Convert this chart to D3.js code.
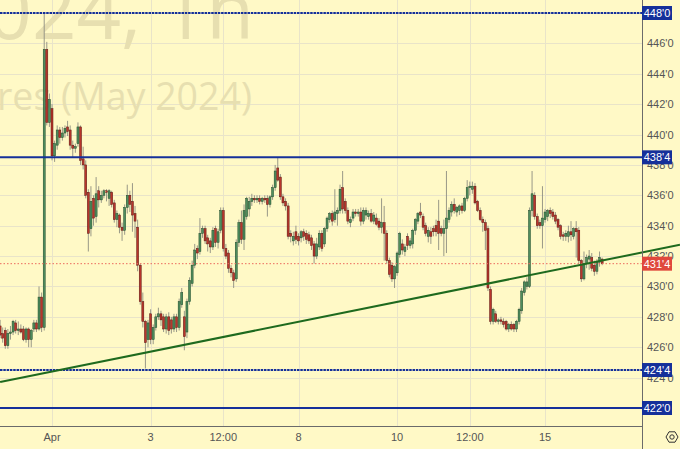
<!DOCTYPE html>
<html><head><meta charset="utf-8">
<script src="https://cdn.jsdelivr.net/npm/d3@7"></script>
<style>html,body{margin:0;padding:0;background:#fff9c6;}svg{display:block;}</style>
</head><body>
<svg id="c" width="680" height="449"></svg>
<script>
// ---- data (hourly bars, index 0..232) ----
const opens = [427.4,426.9,427.1,426.1,426.9,427.0,427.6,427.1,427.2,427.2,426.5,427.2,426.5,427.2,427.6,427.2,429.3,427.3,445.6,440.8,
441.7,438.6,439.3,440.3,439.8,440.1,440.5,440.3,439.3,439.1,439.4,440.5,438.4,438.0,436.2,433.8,435.8,434.6,436.3,435.7,
436.0,436.3,435.8,436.2,435.5,434.4,434.7,433.9,433.7,435.2,436.0,435.6,434.8,433.9,431.4,429.0,427.7,426.5,428.2,426.5,
427.3,428.0,428.2,428.0,427.2,428.0,427.8,427.2,428.0,427.3,428.8,428.0,427.0,429.0,430.2,431.4,432.5,432.3,433.5,433.8,
433.2,433.0,432.6,433.8,432.9,433.7,435.0,432.5,432.2,431.2,430.9,430.5,432.9,434.2,433.1,434.6,435.1,435.6,435.8,435.7,
435.8,435.6,435.8,435.8,435.4,435.9,436.5,437.8,437.2,435.9,435.6,435.3,433.5,433.0,433.6,433.3,433.2,433.6,433.5,433.4,
433.2,432.8,432.0,432.6,433.5,432.8,433.8,434.4,434.8,434.4,434.8,435.0,436.5,435.6,435.0,434.2,434.5,434.9,434.8,434.9,
434.3,434.7,434.6,434.8,434.3,434.5,434.3,433.9,434.2,433.5,431.7,431.4,430.5,430.9,432.1,432.8,432.3,433.3,432.7,432.8,
433.7,434.3,434.9,434.6,434.0,433.3,433.6,433.8,434.0,434.3,433.8,433.5,433.8,434.4,434.9,435.4,434.9,435.0,435.3,435.0,
435.8,436.5,436.4,436.6,435.6,435.0,434.4,434.2,433.8,429.8,427.7,428.2,427.7,427.8,427.7,427.7,427.2,427.5,427.5,427.2,
427.7,428.4,429.6,430.0,430.0,435.0,436.0,434.6,434.2,434.0,434.4,434.6,435.0,434.9,434.7,434.4,434.0,433.4,433.3,433.3,
433.6,433.3,433.8,433.7,431.7,430.5,431.5,431.8,431.9,431.4,431.0,431.6,431.8];
const highs = [427.8,427.3,427.3,427.2,427.4,427.8,427.8,427.7,427.5,427.4,427.3,427.3,427.2,427.8,427.8,430.0,429.6,448.0,446.1,442.7,
442.0,439.6,440.6,440.5,440.5,440.6,440.9,440.6,439.6,439.4,440.8,440.6,439.2,438.3,436.4,436.6,436.0,437.2,436.6,436.3,
436.4,436.4,436.4,436.3,435.7,435.0,434.8,434.2,435.4,436.7,436.3,436.8,435.3,434.4,431.5,429.6,427.8,427.8,428.5,427.5,
428.2,428.6,428.4,428.2,428.2,428.3,428.0,428.2,428.2,429.2,429.9,428.4,429.2,430.6,431.7,432.8,432.7,434.5,434.0,434.0,
433.4,433.2,433.9,434.0,433.8,435.2,435.2,432.8,432.4,431.4,431.1,433.1,434.4,435.0,435.4,435.9,435.9,436.1,436.0,436.0,
436.0,435.9,436.0,436.0,436.0,436.7,438.0,438.5,437.4,436.1,435.8,435.5,433.7,433.6,434.0,433.5,433.7,433.8,433.7,433.6,
433.4,433.0,433.2,433.7,433.7,433.9,434.6,434.9,435.0,436.4,435.2,436.7,437.6,435.8,435.2,434.6,435.1,435.1,435.1,435.2,
435.2,435.2,435.0,435.1,434.9,434.8,434.5,435.8,435.3,433.7,431.9,431.6,431.4,432.3,433.6,433.1,432.8,433.5,433.2,433.8,
434.5,434.9,435.5,434.8,434.2,433.9,433.9,434.0,434.4,435.7,434.0,434.4,437.6,435.2,435.6,435.8,435.3,435.4,435.5,435.9,
437.0,436.9,436.9,436.8,435.7,435.2,434.6,434.4,434.0,430.0,428.6,428.4,427.9,428.0,427.9,427.8,427.6,427.7,427.6,427.8,
428.6,429.9,430.4,430.6,435.2,437.6,436.2,434.8,434.4,436.6,435.1,435.1,435.2,435.1,434.9,434.5,434.1,433.6,433.7,434.0,
434.3,433.9,434.3,433.9,431.8,432.3,432.1,432.4,432.2,431.7,431.8,432.3,431.9];
const lows = [426.6,426.3,425.9,425.9,426.5,426.8,426.9,426.8,426.9,426.4,426.3,426.0,426.0,427.0,427.0,427.1,427.0,427.1,440.6,440.5,
438.3,438.2,439.0,439.4,439.6,439.8,439.9,439.0,438.5,438.8,439.2,438.0,437.7,435.8,432.3,433.3,434.0,434.2,435.2,435.5,
435.8,435.6,435.3,435.2,434.2,433.9,433.5,433.0,433.4,434.8,434.9,433.6,433.2,431.0,428.8,427.3,424.6,426.0,426.2,426.2,
427.1,427.8,427.4,427.0,426.9,426.8,426.9,427.0,427.0,427.1,428.6,425.8,426.6,428.8,430.0,431.2,431.8,432.1,433.2,432.8,
432.3,432.2,432.4,432.6,432.5,433.5,432.3,431.8,430.9,430.6,429.9,430.3,432.6,432.8,432.4,434.4,434.6,435.3,435.5,435.5,
435.4,435.4,435.5,434.6,435.2,435.7,436.3,436.9,435.7,435.3,435.0,433.1,432.9,432.7,432.8,432.7,432.9,433.0,432.8,432.8,
432.4,431.5,431.8,432.4,432.3,432.6,433.6,434.2,434.0,434.2,434.0,434.8,434.8,434.8,434.1,433.9,434.3,434.6,434.6,434.0,
434.1,434.4,434.4,434.2,434.1,434.0,433.7,433.5,431.7,431.5,430.6,430.3,429.9,430.7,431.9,432.1,432.0,432.4,432.5,432.5,
433.4,434.1,434.5,433.7,433.3,432.9,432.8,433.3,433.3,432.4,433.3,432.0,432.2,434.2,434.6,434.8,434.6,434.7,434.8,434.9,
435.6,436.0,436.1,435.4,434.9,434.3,433.6,432.4,429.7,427.5,427.5,427.6,427.5,427.5,427.3,427.1,427.0,427.1,427.0,427.0,
427.5,428.2,429.4,429.8,429.9,434.6,434.4,433.8,433.8,432.5,434.2,434.3,434.5,434.4,434.1,433.7,433.1,433.0,433.0,432.9,
433.0,433.1,431.9,431.5,430.3,430.4,431.2,431.1,431.0,430.7,430.8,431.3,431.4];
const closes = [426.8,426.6,426.1,426.9,427.0,427.7,427.1,427.2,427.0,426.5,427.2,426.5,427.1,427.6,427.2,429.3,427.3,445.6,440.8,442.3,
438.6,439.4,440.3,439.8,440.1,440.4,440.2,439.3,439.1,439.2,440.5,438.3,438.0,436.0,433.5,435.6,434.5,436.1,435.7,436.0,
436.3,436.2,436.3,435.4,434.4,434.8,433.9,433.7,435.2,436.0,435.4,434.7,434.3,431.4,429.0,427.7,426.3,427.6,426.5,427.3,
428.0,428.2,427.8,427.2,428.0,427.1,427.2,428.0,427.3,429.0,429.6,426.7,429.0,430.4,431.4,432.4,432.2,433.5,433.8,433.0,
432.8,432.6,433.7,432.9,433.6,435.0,432.5,432.0,431.2,430.9,430.4,432.9,434.2,433.1,435.0,435.8,435.6,435.8,435.7,435.8,
435.6,435.8,435.7,435.4,435.9,436.5,437.6,437.0,435.9,435.5,435.3,433.3,433.3,433.3,433.1,433.0,433.6,433.3,433.1,433.0,
432.7,432.0,432.8,433.5,432.5,433.8,434.5,434.8,434.3,434.9,435.0,436.4,435.1,435.0,434.3,434.4,434.9,434.8,434.9,434.3,
435.0,435.0,434.8,434.3,434.7,434.1,433.9,434.2,433.5,431.7,430.8,430.5,431.3,432.2,433.5,432.4,432.6,432.7,433.0,433.7,
434.4,434.8,434.7,433.9,433.5,433.7,433.3,433.6,433.6,433.5,433.5,433.8,434.5,435.0,435.4,435.0,435.2,435.3,435.0,435.8,
436.5,436.6,436.6,435.5,435.0,434.4,434.2,433.7,429.9,427.7,428.5,427.7,427.8,427.7,427.5,427.2,427.5,427.2,427.2,427.7,
428.5,429.7,430.3,430.3,435.0,436.1,434.6,434.0,434.0,434.5,434.9,435.0,434.8,434.6,434.3,433.9,433.3,433.3,433.5,433.6,
433.4,433.8,433.6,431.7,430.5,431.5,431.9,432.0,431.2,431.0,431.6,431.9,431.5];

// time axis labels: bar index -> label
const timeTickIdx = [20, 58, 86, 115, 153, 181, 210];
const timeTickLabels = ["Apr", "3", "12:00", "8", "10", "12:00", "15"];
// price ticks
const priceTicks = [422,424,426,428,430,432,434,436,438,440,442,444,446,448];
// horizontal levels
const levelPrices = [448, 438.5, 424.5, 422];
const levelDotted = [true, false, true, false];
// trend line: [bar index, price]
const trendIdx = [0, 262];
const trendPrice = [423.71, 432.74];
const lastPrice = 431.5;
const watermark1 = "ZWK2024, 1h";
const watermark2 = "Wheat Futures (May 2024)";

// ---- layout ----
const W = 680, H = 449, plotR = 642, plotB = 426;
const svg = d3.select("#c");
const x = d3.scaleLinear().domain([20, 210]).range([52, 545.05]);
const y = d3.scaleLinear().domain([422, 448]).range([408, 13]);
const fmt = p => { const i = Math.floor(p + 1e-9); const e = Math.round((p - i) * 8); return i + "'" + e; };

svg.append("rect").attr("width", W).attr("height", H).attr("fill", "#fff9c6");

// grid
const grid = svg.append("g").attr("stroke", "#e9e4c9").attr("stroke-width", 1);
grid.selectAll("line.h").data(priceTicks).join("line")
  .attr("x1", 0).attr("x2", plotR).attr("y1", d => Math.round(y(d)) + 0.5).attr("y2", d => Math.round(y(d)) + 0.5);
grid.selectAll("line.v").data(timeTickIdx).join("line")
  .attr("y1", 0).attr("y2", plotB).attr("x1", d => Math.round(x(d)) + 0.5).attr("x2", d => Math.round(x(d)) + 0.5);

// watermark
const wm = svg.append("g").attr("fill", "#e7dfb0").attr("font-family", "'Open Sans', 'Noto Sans', sans-serif").attr("text-anchor", "end");
wm.append("text").attr("x", 254).attr("y", 39).attr("font-size", 78).text(watermark1);
wm.append("text").attr("x", 252).attr("y", 110).attr("font-size", 37.5).text(watermark2);

// plot clip
svg.append("clipPath").attr("id", "pc").append("rect").attr("width", plotR).attr("height", plotB);

const bars = d3.range(opens.length).map(i => ({i, o: opens[i], h: highs[i], l: lows[i], c: closes[i]}));
const cg = svg.append("g").attr("clip-path", "url(#pc)");
cg.selectAll("line.w").data(bars).join("line")
  .attr("x1", d => x(d.i)).attr("x2", d => x(d.i))
  .attr("y1", d => y(d.h)).attr("y2", d => y(d.l))
  .attr("stroke", "#8d8d80").attr("stroke-width", 0.9);
cg.selectAll("rect.b").data(bars).join("rect")
  .attr("x", d => x(d.i) - 1)
  .attr("width", 2)
  .attr("y", d => y(Math.max(d.o, d.c)))
  .attr("height", d => Math.max(0.8, Math.abs(y(d.o) - y(d.c))))
  .attr("fill", d => d.c >= d.o ? "#4f8d5e" : "#b8352b")
  .attr("stroke", d => d.c >= d.o ? "#1f4a2a" : "#5a1712")
  .attr("stroke-width", 0.5);

// current price dotted line
svg.append("line").attr("x1", 0).attr("x2", plotR).attr("y1", y(lastPrice)).attr("y2", y(lastPrice))
  .attr("stroke", "#ec6a5e").attr("stroke-width", 1).attr("stroke-dasharray", "1.5,2");

// horizontal levels
levelPrices.forEach((p, k) => {
  svg.append("line").attr("x1", 0).attr("x2", plotR).attr("y1", y(p)).attr("y2", y(p))
    .attr("stroke", "#15309a").attr("stroke-width", 2)
    .attr("stroke-dasharray", levelDotted[k] ? "2.5,0.8" : null);
});

// trend line
svg.append("line")
  .attr("x1", x(trendIdx[0])).attr("y1", y(trendPrice[0]))
  .attr("x2", x(trendIdx[1])).attr("y2", y(trendPrice[1]))
  .attr("stroke", "#1e6a1e").attr("stroke-width", 2);

// axes lines
svg.append("line").attr("x1", plotR + 0.5).attr("x2", plotR + 0.5).attr("y1", 0).attr("y2", H).attr("stroke", "#6b6b6b");
svg.append("line").attr("x1", 0).attr("x2", plotR).attr("y1", plotB + 0.5).attr("y2", plotB + 0.5).attr("stroke", "#6b6b6b");

// price labels (ticks fully hidden under a level box are not drawn)
const lab = svg.append("g").attr("font-family", "'Liberation Sans', Arial, sans-serif").attr("font-size", 11);
lab.selectAll("text.p").data(priceTicks.filter(t => !levelPrices.includes(t))).join("text")
  .attr("x", 647).attr("y", d => y(d) + 4).attr("fill", "#555").text(d => fmt(d));
lab.selectAll("text.t").data(timeTickIdx).join("text")
  .attr("x", d => x(d)).attr("y", 441).attr("text-anchor", "middle").attr("fill", "#555")
  .text((d, k) => timeTickLabels[k]);

// level label boxes
levelPrices.forEach(p => {
  lab.append("rect").attr("x", 642).attr("y", y(p) - 7).attr("width", 30).attr("height", 14).attr("fill", "#15309a");
  lab.append("text").attr("x", 657).attr("y", y(p) + 4).attr("text-anchor", "middle").attr("fill", "#fff").text(fmt(p));
});
lab.append("rect").attr("x", 642).attr("y", y(lastPrice) - 7).attr("width", 30).attr("height", 14).attr("fill", "#e0483c");
lab.append("text").attr("x", 657).attr("y", y(lastPrice) + 4).attr("text-anchor", "middle").attr("fill", "#fff").text(fmt(lastPrice));

// gear icon
const gx = 672, gy = 437;
const hex = d3.range(6).map(k => [gx + 6 * Math.cos(Math.PI / 3 * k), gy + 6 * Math.sin(Math.PI / 3 * k)]);
svg.append("path").attr("d", "M" + hex.join("L") + "Z").attr("fill", "none").attr("stroke", "#333").attr("stroke-width", 1);
svg.append("circle").attr("cx", gx).attr("cy", gy).attr("r", 2.2).attr("fill", "none").attr("stroke", "#333");
</script>
</body></html>
